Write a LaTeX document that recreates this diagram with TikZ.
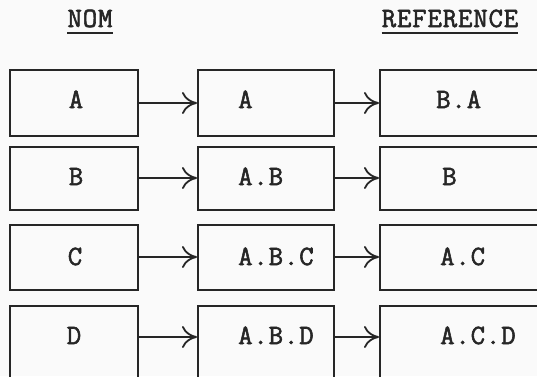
\documentclass[tikz,border=0pt]{standalone}
\usepackage{fontspec}
\newfontfamily\twfont[LetterSpace=3,FakeBold=2]{Latin Modern Mono}
\usetikzlibrary{arrows.meta}
\begin{document}
\begin{tikzpicture}[x=1pt,y=-1pt,
  ink/.style={draw=black!85,line width=1.8pt},
  box/.style={ink,rectangle,inner sep=0pt,anchor=north west},
  txt/.style={inner sep=0pt,font=\twfont\fontsize{28}{30}\selectfont,text=black!85},
  arr/.style={draw=black!85,line width=1.8pt,-{To[length=15pt,width=22pt,line width=1.8pt]}},
  uline/.style={draw=black!85,line width=1.8pt}]
\fill[black!2] (0,0) rectangle (537,376);
\useasboundingbox (0,0) rectangle (537,376);
\clip (0,0) rectangle (537,376);
% header
\node[txt,anchor=base] (nom) at (90,27) {NOM};
\node[txt,anchor=base] (ref) at (450,27) {REFERENCE};
\draw[uline] ([yshift=-6pt]nom.base west) -- ([yshift=-6pt]nom.base east);
\draw[uline] ([yshift=-6pt]ref.base west) -- ([yshift=-6pt]ref.base east);
% boxes
\node[box,minimum width=128pt,minimum height=66pt] (b11) at (9,69) {};
\node[box,minimum width=136pt,minimum height=66pt] (b12) at (197,69) {};
\node[box,minimum width=191pt,minimum height=66pt] (b13) at (379,69) {};
\node[box,minimum width=128pt,minimum height=63pt] (b21) at (9,146) {};
\node[box,minimum width=136pt,minimum height=63pt] (b22) at (197,146) {};
\node[box,minimum width=191pt,minimum height=63pt] (b23) at (379,146) {};
\node[box,minimum width=128pt,minimum height=65pt] (b31) at (9,224) {};
\node[box,minimum width=136pt,minimum height=65pt] (b32) at (197,224) {};
\node[box,minimum width=191pt,minimum height=65pt] (b33) at (379,224) {};
\node[box,minimum width=128pt,minimum height=95pt] (b41) at (9,305) {};
\node[box,minimum width=136pt,minimum height=95pt] (b42) at (197,305) {};
\node[box,minimum width=191pt,minimum height=95pt] (b43) at (379,305) {};
% texts
\node[txt,anchor=base] (t11) at (76,108) {A};
\node[txt,anchor=base west] (t12) at (238,108) {A};
\node[txt,anchor=base west] (t13) at (436,108) {B.A};
\node[txt,anchor=base] (t21) at (76,185) {B};
\node[txt,anchor=base west] (t22) at (238,185) {A.B};
\node[txt,anchor=base west] (t23) at (442,185) {B};
\node[txt,anchor=base] (t31) at (75,265) {C};
\node[txt,anchor=base west] (t32) at (238,265) {A.B.C};
\node[txt,anchor=base west] (t33) at (440,265) {A.C};
\node[txt,anchor=base] (t41) at (74,344) {D};
\node[txt,anchor=base west] (t42) at (238,344) {A.B.D};
\node[txt,anchor=base west] (t43) at (440,344) {A.C.D};
% arrows
\coordinate (y1) at (0,103);
\coordinate (y2) at (0,178);
\coordinate (y3) at (0,257);
\coordinate (y4) at (0,337);
\foreach \r in {1,2,3,4}{
  \draw[arr] (y\r -| b\r1.east) -- (y\r -| b\r2.west);
  \draw[arr] (y\r -| b\r2.east) -- (y\r -| b\r3.west);
}
\end{tikzpicture}
\end{document}
